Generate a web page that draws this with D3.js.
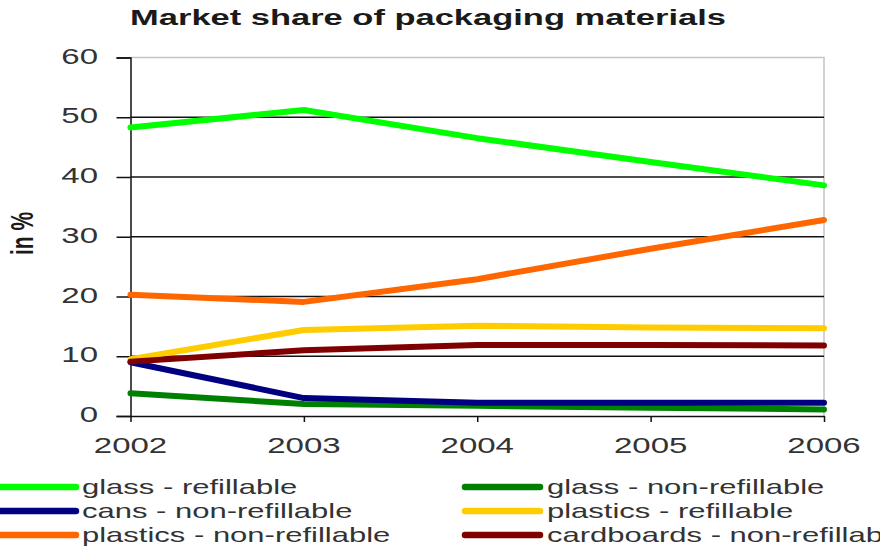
<!DOCTYPE html>
<html>
<head>
<meta charset="utf-8">
<script src="https://cdn.jsdelivr.net/npm/d3@7"></script>
<style>
  html, body { margin: 0; padding: 0; background: #fff; }
  svg { display: block; font-family: "Liberation Sans", Arial, sans-serif; }
</style>
</head>
<body>
<svg id="chart" width="880" height="551"></svg>
<script>
// Years on the x axis
const years = [2002, 2003, 2004, 2005, 2006];

// Market share per packaging material, in %
const glassRefillable      = [48.3, 51.2, 46.5, 42.5, 38.6];
const glassNonRefillable   = [3.8, 2.0, 1.7, 1.4, 1.1];
const cansNonRefillable    = [9.0, 3.0, 2.2, 2.2, 2.2];
const plasticsRefillable   = [9.5, 14.4, 15.1, 14.8, 14.7];
const plasticsNonRefillable = [20.3, 19.1, 22.9, 28.0, 32.8];
const cardboardsNonRefillable = [9.1, 11.0, 11.9, 11.9, 11.8];

const seriesNames = [
  "glass - refillable", "glass - non-refillable",
  "cans - non-refillable", "plastics - refillable",
  "plastics - non-refillable", "cardboards - non-refillable"
];
const seriesColors = ["#00ff00", "#008000", "#000080", "#ffcc00", "#ff6600", "#800000"];
const yTicks = [0, 10, 20, 30, 40, 50, 60];

const series = [glassRefillable, glassNonRefillable, cansNonRefillable,
                plasticsRefillable, plasticsNonRefillable, cardboardsNonRefillable]
  .map((values, i) => ({ name: seriesNames[i], color: seriesColors[i], values }));

const svg = d3.select("#chart");
const stretch = 1.5;   // horizontal stretch applied to all text
const textColor = "#1a1a1a";

const plot = { left: 130.5, right: 824, top: 57.5, bottom: 416 };

const x = d3.scalePoint().domain(years).range([plot.left, plot.right]);
const y = d3.scaleLinear().domain([0, 60]).range([plot.bottom, plot.top]);

// Title
svg.append("text")
  .attr("transform", `translate(428,25) scale(${stretch},1)`)
  .attr("text-anchor", "middle")
  .attr("font-size", 23).attr("font-weight", "bold")
  .attr("fill", textColor)
  .text("Market share of packaging materials");

// Plot frame: top and right edges in grey
svg.append("path")
  .attr("d", `M${plot.left},${plot.top}H${plot.right}V${plot.bottom}`)
  .attr("fill", "none").attr("stroke", "#c4c4c4").attr("stroke-width", 1.5);

// Horizontal gridlines
svg.append("g").selectAll("line")
  .data(yTicks.filter(t => t > 0 && t < 60))
  .join("line")
  .attr("x1", plot.left).attr("x2", plot.right)
  .attr("y1", d => y(d)).attr("y2", d => y(d))
  .attr("stroke", "#111").attr("stroke-width", 1.5);

// Y axis
const yAxis = svg.append("g").attr("transform", `translate(${plot.left},0)`)
  .call(d3.axisLeft(y).tickValues(yTicks).tickSize(14).tickFormat(""));
yAxis.select(".domain").attr("stroke", "#111").attr("stroke-width", 1.5);
yAxis.selectAll(".tick line").attr("stroke", "#111").attr("stroke-width", 1.5);

svg.append("g").selectAll("text")
  .data(yTicks)
  .join("text")
  .attr("transform", d => `translate(98,${y(d) + 6}) scale(${stretch},1)`)
  .attr("text-anchor", "end")
  .attr("font-size", 22)
  .attr("fill", "#333")
  .text(d => d);

// X axis
const xAxis = svg.append("g").attr("transform", `translate(0,${plot.bottom})`)
  .call(d3.axisBottom(x).tickSize(6).tickSizeOuter(0).tickFormat(""));
xAxis.select(".domain").attr("stroke", "#111").attr("stroke-width", 1.5);
xAxis.selectAll(".tick line").attr("stroke", "#111").attr("stroke-width", 1.5);

svg.append("g").selectAll("text")
  .data(years)
  .join("text")
  .attr("transform", d => `translate(${x(d)},453) scale(${stretch},1)`)
  .attr("text-anchor", "middle")
  .attr("font-size", 22)
  .attr("fill", "#333")
  .text(d => d);

// Y axis title
svg.append("text")
  .attr("transform", `translate(33,233.5) scale(${stretch},1) rotate(-90)`)
  .attr("text-anchor", "middle")
  .attr("font-size", 21).attr("font-weight", "bold")
  .attr("fill", textColor)
  .text("in %");

// Series lines
const line = d3.line()
  .x((d, i) => x(years[i]))
  .y(d => y(d));

svg.append("g").selectAll("path")
  .data(series)
  .join("path")
  .attr("d", d => line(d.values))
  .attr("fill", "none")
  .attr("stroke", d => d.color)
  .attr("stroke-width", 6)
  .attr("stroke-linecap", "round")
  .attr("stroke-linejoin", "round");

// Legend: two columns, three rows
const legendCols = [{ lineX0: -10, lineX1: 76, textX: 82 }, { lineX0: 465, lineX1: 540, textX: 547 }];
const legendRows = [487, 511, 535];

const legend = svg.append("g").selectAll("g")
  .data(series)
  .join("g");

legend.append("line")
  .attr("x1", (d, i) => legendCols[i % 2].lineX0)
  .attr("x2", (d, i) => legendCols[i % 2].lineX1)
  .attr("y1", (d, i) => legendRows[Math.floor(i / 2)])
  .attr("y2", (d, i) => legendRows[Math.floor(i / 2)])
  .attr("stroke", d => d.color)
  .attr("stroke-width", 6.5)
  .attr("stroke-linecap", "round");

legend.append("text")
  .attr("transform", (d, i) =>
    `translate(${legendCols[i % 2].textX},${legendRows[Math.floor(i / 2)] + 7}) scale(1.55,1)`)
  .attr("font-size", 20)
  .attr("fill", "#333")
  .text(d => d.name);
</script>
</body>
</html>
